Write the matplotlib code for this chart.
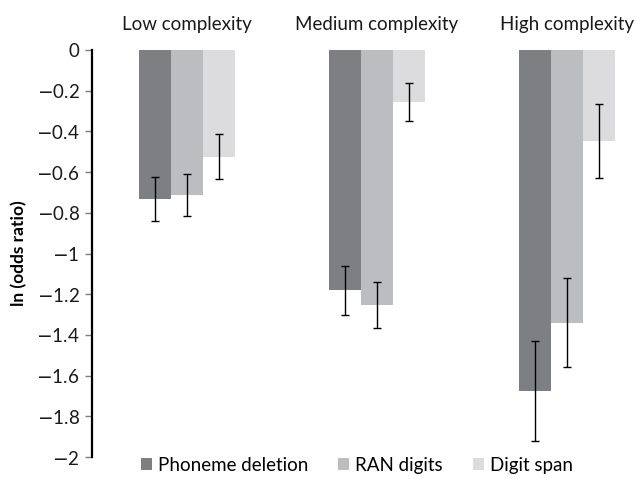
import matplotlib
matplotlib.use("Agg")
import matplotlib.pyplot as plt
import matplotlib.transforms as mtransforms
import numpy as np

plt.rcParams["font.family"] = ["Lato", "DejaVu Sans"]

groups = ["Low complexity", "Medium complexity", "High complexity"]
series = ["Phoneme deletion", "RAN digits", "Digit span"]
phoneme = [-0.732, -1.18, -1.676]
ran = [-0.712, -1.253, -1.34]
digit = [-0.525, -0.255, -0.447]
phoneme_err = [0.11, 0.12, 0.245]
ran_err = [0.105, 0.115, 0.22]
digit_err = [0.11, 0.095, 0.18]
tick_values = [-2, -1.8, -1.6, -1.4, -1.2, -1, -0.8, -0.6, -0.4, -0.2, 0]

colors = ["#7e7f83", "#bcbdc1", "#dcdcde"]


def fmt_tick(v):
    s = f"{abs(v):g}"
    return s if v == 0 else "$-$" + s


fig = plt.figure(figsize=(6.37, 4.79), dpi=100)
ax = fig.add_axes([0.1444, 0.0459, 0.8948, 0.8497])

x = np.arange(len(groups))
bar_width = 0.168
values = [phoneme, ran, digit]
errs = [phoneme_err, ran_err, digit_err]

for i, (vals, err) in enumerate(zip(values, errs)):
    pos = x + (i - 1) * bar_width
    ax.bar(pos, vals, bar_width, color=colors[i], label=series[i], zorder=2)
    ax.errorbar(pos, vals, yerr=err, fmt="none", ecolor="black", elinewidth=1,
                capsize=3, capthick=1, zorder=3)

ax.set_xlim(-0.5, 2.5)
ax.set_ylim(-2, 0)
ax.set_yticks(tick_values)
ax.set_yticklabels([fmt_tick(v) for v in tick_values])
ax.tick_params(axis="y", length=5, width=1, color="#7f7f7f", labelsize=13.5,
               labelcolor="#1a1a1a", pad=4)
ax.set_xticks([])
for s in ["top", "right", "bottom"]:
    ax.spines[s].set_visible(False)
ax.spines["left"].set_linewidth(1.6)
ax.spines["left"].set_color("black")

ax.set_ylabel("ln (odds ratio)", fontsize=12.5, fontweight="bold", labelpad=6)

trans = mtransforms.blended_transform_factory(ax.transData, ax.transAxes)
for i, g in enumerate(groups):
    ax.text(x[i], 1.062, g, transform=trans, ha="center", va="center",
            fontsize=13.5, color="#1a1a1a", clip_on=False)

fig.legend(loc="center", bbox_to_anchor=(0.56, 0.029), ncol=3, frameon=False,
           fontsize=13.5, handlelength=0.6, handleheight=0.6, handletextpad=0.3,
           columnspacing=1.6)

plt.savefig("out.png", dpi=100)
